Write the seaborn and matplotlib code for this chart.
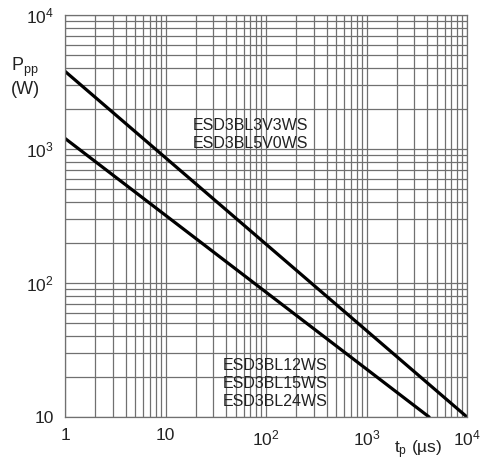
import numpy as np
import pandas as pd
import matplotlib
matplotlib.use("Agg")
import matplotlib.pyplot as plt
import seaborn as sns

# Data (log-log straight lines)
series_names = ["ESD3BL3V3WS/5V0WS", "ESD3BL12WS/15WS/24WS"]
upper_tp = [1, 10000]
upper_ppp = [3800, 10]
lower_tp = [1, 4200]
lower_ppp = [1200, 10]
x_ticks = [1, 10, 100, 1000, 10000]
x_tick_labels = ["1", "10", "10$^2$", "10$^3$", "10$^4$"]
y_ticks = [10, 100, 1000, 10000]
y_tick_labels = ["10", "10$^2$", "10$^3$", "10$^4$"]
upper_label = "ESD3BL3V3WS\nESD3BL5V0WS"
lower_label = "ESD3BL12WS\nESD3BL15WS\nESD3BL24WS"

df = pd.DataFrame({
    "tp": upper_tp + lower_tp,
    "ppp": upper_ppp + lower_ppp,
    "series": [series_names[0]] * len(upper_tp) + [series_names[1]] * len(lower_tp),
})

sns.set_style("white")
plt.rcParams["font.family"] = ["Liberation Sans", "DejaVu Sans"]
plt.rcParams["mathtext.fontset"] = "custom"
plt.rcParams["mathtext.rm"] = "Liberation Sans"
plt.rcParams["mathtext.it"] = "Liberation Sans:italic"
plt.rcParams["mathtext.bf"] = "Liberation Sans:bold"

W, H = 482, 469
fig = plt.figure(figsize=(W / 100, H / 100), dpi=100)
ax = fig.add_axes([65 / W, 1 - 417 / H, (467 - 65) / W, (417 - 15) / H])

grid_col = "#707070"
ax.set_xscale("log")
ax.set_yscale("log")
ax.set_xlim(1, 10000)
ax.set_ylim(10, 10000)
ax.grid(True, which="both", color=grid_col, linewidth=0.9)
ax.set_axisbelow(True)

sns.lineplot(data=df, x="tp", y="ppp", hue="series", palette=["black", "black"],
             linewidth=2.3, legend=False, ax=ax, estimator=None, sort=False)

ax.set_xticks(x_ticks)
ax.set_xticklabels(x_tick_labels)
ax.set_yticks(y_ticks)
ax.set_yticklabels(y_tick_labels)
ax.tick_params(axis="both", which="both", length=0, labelsize=12.5, colors="#222222")
ax.tick_params(axis="x", pad=8)
ax.tick_params(axis="y", pad=8)
ax.set_xlabel("")
ax.set_ylabel("")
for s in ax.spines.values():
    s.set_color(grid_col)
    s.set_linewidth(0.9)

def px(x, y):
    return x / W, 1 - y / H

fig.text(*px(250, 118), upper_label, ha="center", va="top",
         fontsize=11.5, color="#222222", linespacing=1.25)
fig.text(*px(275, 358), lower_label, ha="center", va="top",
         fontsize=11.5, color="#222222", linespacing=1.25)

fig.text(*px(11, 77), "P$_\\mathregular{pp}$\n(W)", ha="left", va="center",
         fontsize=13, color="#222222", linespacing=1.2)
fig.text(*px(418, 450), "t$_\\mathregular{p}$ (µs)", ha="center", va="center",
         fontsize=12.5, color="#222222")

fig.savefig("out.png", dpi=100)
